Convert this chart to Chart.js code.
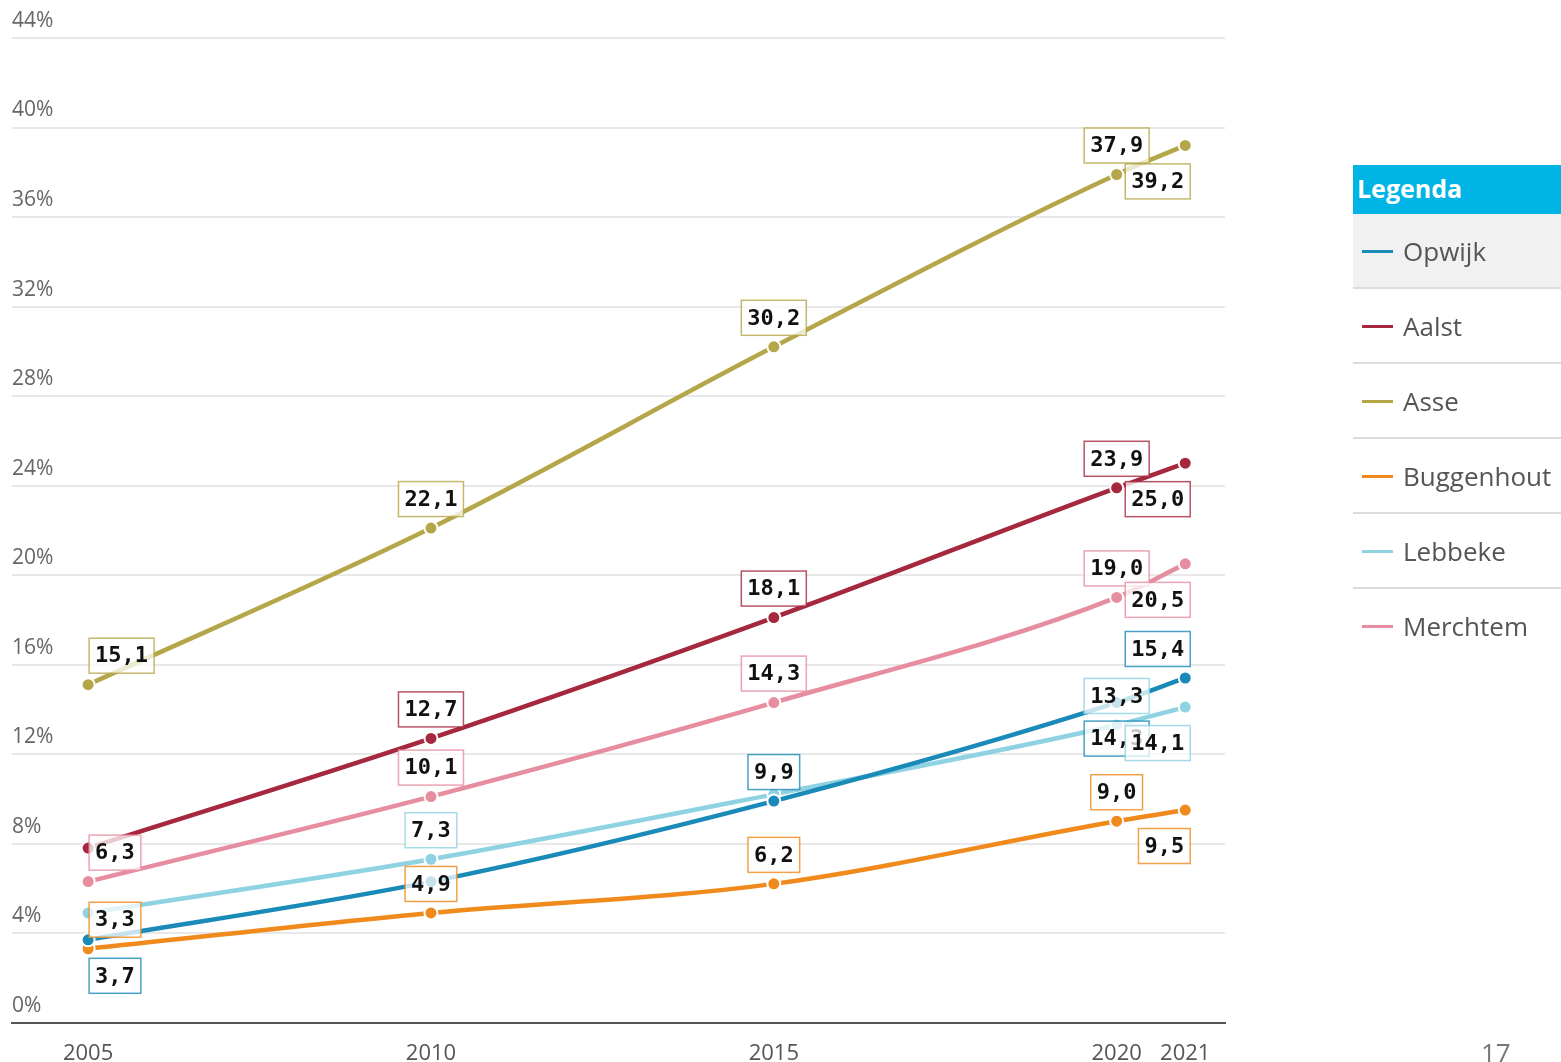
<!DOCTYPE html>
<html>
<head>
<meta charset="utf-8">
<script src="https://cdn.jsdelivr.net/npm/chart.js@4.4.1/dist/chart.umd.min.js"></script>
<style>
  body { margin: 0; background: #fff; overflow: hidden; }
  #wrap { position: relative; width: 1561px; height: 1062px; }
  #chart { position: absolute; left: 0; top: 0; }
  .legend { position: absolute; left: 1353px; top: 165px; width: 208px; font-family: "Open Sans", "Noto Sans", sans-serif; }
  .legend .head { height: 49px; background: #00b4e5; color: #fff; font-weight: bold; font-size: 25px; line-height: 46px; padding-left: 4px; }
  .legend .row { height: 73px; border-bottom: 2px solid #dcdcdc; position: relative; color: #555; font-size: 26px; line-height: 74px; padding-left: 50px; white-space: nowrap; }
  .legend .row.first { background: #f1f1f1; }
  .legend .row.last { border-bottom: none; }
  .legend .mark { position: absolute; left: 9px; top: 36px; width: 31px; height: 3px; }
  .page { position: absolute; left: 1481px; top: 1034px; font-family: "Open Sans", sans-serif; font-size: 26px; color: #777; }
</style>
</head>
<body>
<div id="wrap">
  <canvas id="chart" width="1561" height="1062"></canvas>
  <div class="legend" id="legend"><div class="head">Legenda</div></div>
  <div class="page">17</div>
</div>
<script>
const years = [2005, 2010, 2015, 2020, 2021];
const yTicks = [0, 4, 8, 12, 16, 20, 24, 28, 32, 36, 40, 44];

const names = ['Opwijk', 'Aalst', 'Asse', 'Buggenhout', 'Lebbeke', 'Merchtem'];
const opwijk = [3.7, 6.3, 9.9, 14.3, 15.4];
const aalst = [7.8, 12.7, 18.1, 23.9, 25.0];
const asse = [15.1, 22.1, 30.2, 37.9, 39.2];
const buggenhout = [3.3, 4.9, 6.2, 9.0, 9.5];
const lebbeke = [4.9, 7.3, 10.2, 13.3, 14.1];
const merchtem = [6.3, 10.1, 14.3, 19.0, 20.5];

const colors = ['#1a8bb8', '#a5283f', '#b5a64a', '#f08a1c', '#8fd2e2', '#e68da0'];

// where the value box goes: a = above, b = below, '' = not shown
const placement = [
    ['b', '', 'a', 'b', 'a'],
    ['', 'a', 'a', 'a', 'b'],
    ['a', 'a', 'a', 'a', 'b'],
    ['a', 'a', 'a', 'a', 'b'],
    ['', 'a', '', 'a', 'b'],
    ['a', 'a', 'a', 'a', 'b'],
];

const series = [opwijk, aalst, asse, buggenhout, lebbeke, merchtem];

const valueBoxes = {
    id: 'valueBoxes',
    afterDatasetsDraw(chart) {
        const ctx = chart.ctx;
        ctx.save();
        ctx.font = 'bold 22px "DejaVu Sans Mono", monospace';
        ctx.textBaseline = 'middle';
        ctx.textAlign = 'center';
        chart.data.datasets.forEach((ds, i) => {
            const meta = chart.getDatasetMeta(i);
            meta.data.forEach((pt, j) => {
                const where = placement[i][j];
                if (!where) return;
                const txt = ds.data[j].y.toFixed(1).replace('.', ',');
                const w = ctx.measureText(txt).width + 12;
                const h = 35;
                let cx = pt.x;
                if (j === 0) cx = pt.x + 1 + w / 2;
                if (j === years.length - 1) cx = pt.x + 5 - w / 2;
                const cy = where === 'a' ? pt.y - 29 : pt.y + 36;
                ctx.fillStyle = 'rgba(255,255,255,0.75)';
                ctx.fillRect(cx - w / 2, cy - h / 2, w, h);
                ctx.strokeStyle = ds.borderColor;
                ctx.globalAlpha = 0.8;
                ctx.lineWidth = 1.5;
                ctx.strokeRect(cx - w / 2, cy - h / 2, w, h);
                ctx.globalAlpha = 1;
                ctx.fillStyle = '#111';
                ctx.fillText(txt, cx, cy + 1);
            });
        });
        ctx.restore();
    }
};

const datasets = series.map((vals, i) => ({
    label: names[i],
    data: vals.map((v, j) => ({ x: years[j], y: v })),
    borderColor: colors[i],
    backgroundColor: colors[i],
    borderWidth: 4.5,
    pointRadius: 6.5,
    pointBorderWidth: 2,
    pointBorderColor: '#fff',
    pointBackgroundColor: colors[i],
    cubicInterpolationMode: 'monotone',
    fill: false,
}));

new Chart(document.getElementById('chart'), {
    type: 'line',
    data: { datasets: datasets },
    options: {
        responsive: false,
        animation: false,
        layout: { padding: { left: 12, right: 336, top: 38, bottom: -15 } },
        plugins: { legend: { display: false }, tooltip: { enabled: false } },
        scales: {
            x: {
                type: 'linear',
                min: 2003.89,
                max: 2021.58,
                afterBuildTicks: axis => { axis.ticks = years.map(v => ({ value: v })); },
                grid: { display: false },
                border: { display: true, color: '#555', width: 2 },
                ticks: {
                    color: '#555',
                    padding: 10,
                    maxRotation: 0,
                    autoSkip: false,
                    font: { family: '"Open Sans", sans-serif', size: 22 },
                    callback: v => String(v),
                },
            },
            y: {
                min: 0,
                max: 44,
                afterBuildTicks: axis => { axis.ticks = yTicks.map(v => ({ value: v })); },
                grid: {
                    color: c => c.tick.value === 0 ? '#555' : '#e8e8e8',
                    lineWidth: 2,
                    drawTicks: false,
                },
                border: { display: false },
                ticks: {
                    mirror: true,
                    padding: 0,
                    labelOffset: -17,
                    color: '#666',
                    font: { family: '"Open Sans", sans-serif', size: 21 },
                    callback: v => v + '%',
                },
            },
        },
    },
    plugins: [valueBoxes],
});

const legend = document.getElementById('legend');
names.forEach((n, i) => {
    const row = document.createElement('div');
    row.className = 'row' + (i === 0 ? ' first' : '') + (i === names.length - 1 ? ' last' : '');
    row.innerHTML = '<span class="mark" style="background:' + colors[i] + '"></span>' + n;
    legend.appendChild(row);
});
</script>
</body>
</html>
